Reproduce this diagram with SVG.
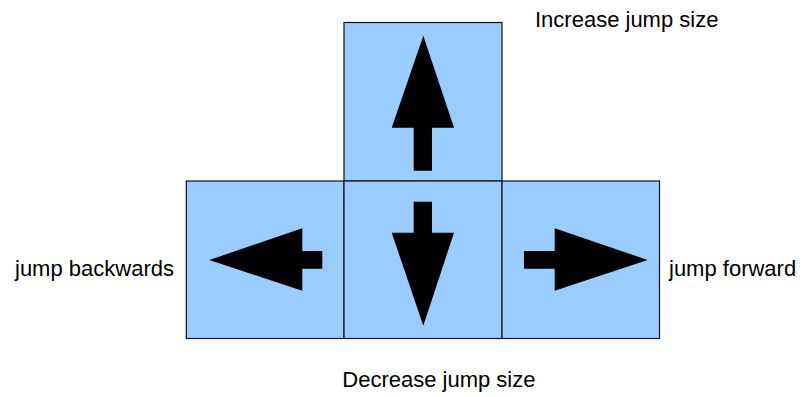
<svg xmlns="http://www.w3.org/2000/svg" width="803" height="397" viewBox="0 0 803 397">
<style>
.key{fill:#99ccff;stroke:#111;stroke-width:1.2}
.arr{fill:#000;stroke:none}
.lbl{font-family:"Liberation Sans",Arial,sans-serif;font-size:22px;fill:#000}
</style>
<rect width="803" height="397" fill="#fff"/>
<g id="key-up">
<rect class="key" x="344" y="22.5" width="158" height="158.5"/>
<polygon class="arr" points="423.3,35.7 454,127.7 432,127.7 432,170.7 413.7,170.7 413.7,127.7 391.7,127.7"/>
</g>
<g id="key-left">
<rect class="key" x="186.3" y="181" width="157.7" height="157.5"/>
<polygon class="arr" points="209.3,260 302.3,228.3 302.3,251 322.3,251 322.3,268.7 302.3,268.7 302.3,290.7"/>
</g>
<g id="key-down">
<rect class="key" x="344" y="181" width="158" height="157.5"/>
<polygon class="arr" points="413.7,201.7 432,201.7 432,232.7 454,232.7 423.3,325.7 391.7,232.7 413.7,232.7"/>
</g>
<g id="key-right">
<rect class="key" x="502" y="181" width="157.5" height="157.5"/>
<polygon class="arr" points="647.7,260 554.7,228.3 554.7,251 524,251 524,268.7 554.7,268.7 554.7,290.7"/>
</g>
<g id="labels">
<text class="lbl" x="535" y="27.3">Increase jump size</text>
<text class="lbl" x="15" y="276">jump backwards</text>
<text class="lbl" x="669" y="276">jump forward</text>
<text class="lbl" x="342.3" y="386.5">Decrease jump size</text>
</g>
<g id="connectors"></g>
</svg>
